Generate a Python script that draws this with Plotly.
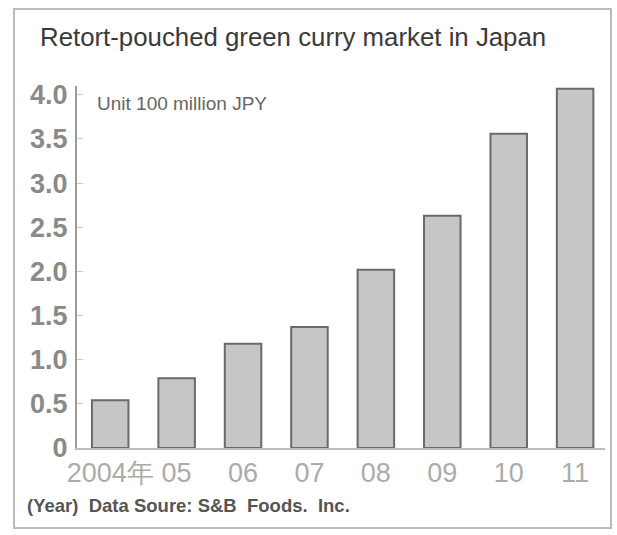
import plotly.graph_objects as go

years = ["2004年", "05", "06", "07", "08", "09", "10", "11"]
values = [0.54, 0.79, 1.18, 1.37, 2.02, 2.63, 3.56, 4.07]
ytick_vals = [0, 0.5, 1.0, 1.5, 2.0, 2.5, 3.0, 3.5, 4.0]
ytick_text = ["0", "0.5", "1.0", "1.5", "2.0", "2.5", "3.0", "3.5", "4.0"]

W, H = 617, 535
ML, MR, MT, MB = 77, 12, 86, 87
pw, ph = W - ML - MR, H - MT - MB

def px(x):
    return (x - ML) / pw

def py(y):
    return (H - MB - y) / ph

fig = go.Figure(go.Bar(
    x=years, y=values,
    marker=dict(color="#c6c6c6", line=dict(color="#6a6a6a", width=2)),
    width=0.55,
))

fig.update_layout(
    width=W, height=H,
    margin=dict(l=ML, r=MR, t=MT, b=MB),
    paper_bgcolor="white", plot_bgcolor="white",
    showlegend=False,
    title=dict(text="Retort-pouched green curry market in Japan",
               xref="container", yref="container", x=40 / W, xanchor="left",
               y=1 - 37 / H, yanchor="middle",
               font=dict(family="Liberation Sans, Arial", size=25.8, color="#3a3a3a")),
    xaxis=dict(type="category", showgrid=False, showline=True, linecolor="#bbbbbb", linewidth=2,
               ticks="", tickfont=dict(family="Liberation Sans, Arial", size=27, color="#ababab"),
               range=[-0.5, 7.45]),
    yaxis=dict(range=[0, 4.1], tickvals=ytick_vals, ticktext=ytick_text,
               showgrid=False, zeroline=False, showline=True, linecolor="#9a9a9a", linewidth=2,
               ticks="inside", ticklen=6, tickcolor="#cccccc",
               tickfont=dict(family="Liberation Sans, Arial", size=27, color="#8a8a8a", weight="bold"),
               ticklabelstandoff=2),
    font=dict(family="Liberation Sans, Arial"),
)

fig.add_annotation(text="Unit 100 million JPY", xref="paper", yref="paper",
                   x=px(95), y=py(103), xanchor="left", yanchor="middle", showarrow=False,
                   font=dict(size=19, color="#666666"))
fig.add_annotation(text="(Year)&nbsp;&nbsp;Data Soure: S&B&nbsp;&nbsp;Foods.&nbsp;&nbsp;Inc.",
                   xref="paper", yref="paper",
                   x=px(25), y=py(505), xanchor="left", yanchor="middle", showarrow=False,
                   font=dict(size=18.5, color="#555555", weight="bold"))

fig.add_shape(type="rect", xref="paper", yref="paper",
              x0=px(14), x1=px(611), y0=py(528), y1=py(9),
              line=dict(color="#bbbbbb", width=2), layer="below")

fig.write_html("out.html")
